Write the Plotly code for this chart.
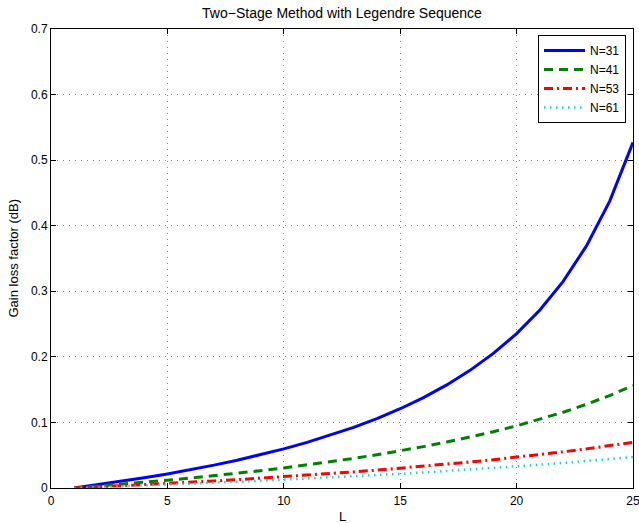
import plotly.graph_objects as go

L = list(range(1, 26))

n31 = [0.0, 0.00483, 0.0100, 0.01554, 0.0215, 0.02793, 0.03488, 0.04243, 0.05065, 0.05963,
       0.06949, 0.08036, 0.0924, 0.10583, 0.12088, 0.13788, 0.15722, 0.17943, 0.20521, 0.23549,
       0.27152, 0.31517, 0.36919, 0.43754, 0.52706]
n41 = [0.0, 0.00272, 0.00557, 0.00858, 0.01175, 0.01511, 0.01865, 0.02241, 0.0264, 0.03064,
       0.03516, 0.03999, 0.04516, 0.0507, 0.05667, 0.06309, 0.07005, 0.0776, 0.08581, 0.09479,
       0.10466, 0.11553, 0.12757, 0.141, 0.15605]
n53 = [0.0, 0.00161, 0.00328, 0.00501, 0.00682, 0.00871, 0.01067, 0.01273, 0.01487, 0.01712,
       0.01947, 0.02193, 0.02451, 0.02723, 0.03008, 0.03309, 0.03627, 0.03962, 0.04316, 0.04692,
       0.05091, 0.05516, 0.05968, 0.0645, 0.06967]
n61 = [0.0, 0.00121, 0.00245, 0.00375, 0.00508, 0.00647, 0.0079, 0.00939, 0.01094, 0.01255,
       0.01422, 0.01595, 0.01776, 0.01965, 0.02162, 0.02367, 0.02581, 0.02806, 0.03041, 0.03287,
       0.03545, 0.03817, 0.04102, 0.04403, 0.04721]

series_names = ["N=31", "N=41", "N=53", "N=61"]
series_values = [n31, n41, n53, n61]
colors = ["#0000FF", "#008000", "#FF0000", "#22CCCC"]
dashes = ["solid", "9px,6px", "9px,4px,2px,4px", "1.5px,4.5px"]
widths = [3, 3, 3, 2.5]

x_ticks = [0, 5, 10, 15, 20, 25]
y_ticks = [0, 0.1, 0.2, 0.3, 0.4, 0.5, 0.6, 0.7]
y_tick_labels = ["0", "0.1", "0.2", "0.3", "0.4", "0.5", "0.6", "0.7"]

fig = go.Figure()
for name, vals, c, d, w in zip(series_names, series_values, colors, dashes, widths):
    fig.add_trace(go.Scatter(x=L, y=vals, mode="lines", name=name,
                             line=dict(color=c, dash=d, width=w)))

font = "Liberation Sans, Arial, Helvetica, sans-serif"
axis_common = dict(
    showline=True, linecolor="black", linewidth=1, mirror="ticks",
    ticks="inside", ticklen=5, tickcolor="black",
    showgrid=True, gridcolor="#808080", griddash="1px,5px", gridwidth=1,
    zeroline=False, automargin=False, ticklabeloverflow="allow",
    tickfont=dict(size=12, color="black", family=font),
)
fig.update_xaxes(range=[0, 25], tickvals=x_ticks, ticklabelstandoff=2, **axis_common)
fig.update_yaxes(range=[0, 0.7], tickvals=y_ticks, ticktext=y_tick_labels, **axis_common)

W, H = 639, 523
ML, MR, MT, MB = 51, 6, 29, 35
PW, PH = W - ML - MR, H - MT - MB
fig.update_layout(
    width=W, height=H,
    margin=dict(l=ML, r=MR, t=MT, b=MB),
    paper_bgcolor="white", plot_bgcolor="white",
    title=dict(text="Two−Stage Method with Legendre Sequence", x=(ML + W - MR) / 2 / W, xanchor="center",
               y=1 - 13 / H, yanchor="middle", font=dict(size=14, color="black", family=font)),
    font=dict(family=font, size=12, color="black"),
    legend=dict(x=(626 - ML) / PW, xanchor="right", y=1 - 6 / PH, yanchor="top",
                bgcolor="white", bordercolor="black", borderwidth=1,
                font=dict(size=12, color="black", family=font),
                tracegroupgap=0, itemwidth=41),
    showlegend=True,
    annotations=[
        dict(text="L", xref="paper", yref="paper", x=0.5, y=-28 / PH, xanchor="center", yanchor="middle",
             showarrow=False, font=dict(size=13, color="black", family=font)),
        dict(text="Gain loss factor (dB)", xref="paper", yref="paper", x=-38 / PW, y=0.5, textangle=-90,
             xanchor="center", yanchor="middle", showarrow=False,
             font=dict(size=13, color="black", family=font)),
    ],
)

fig.write_html("out.html", config={"displayModeBar": False},
               post_script="document.body.style.margin='0';")
